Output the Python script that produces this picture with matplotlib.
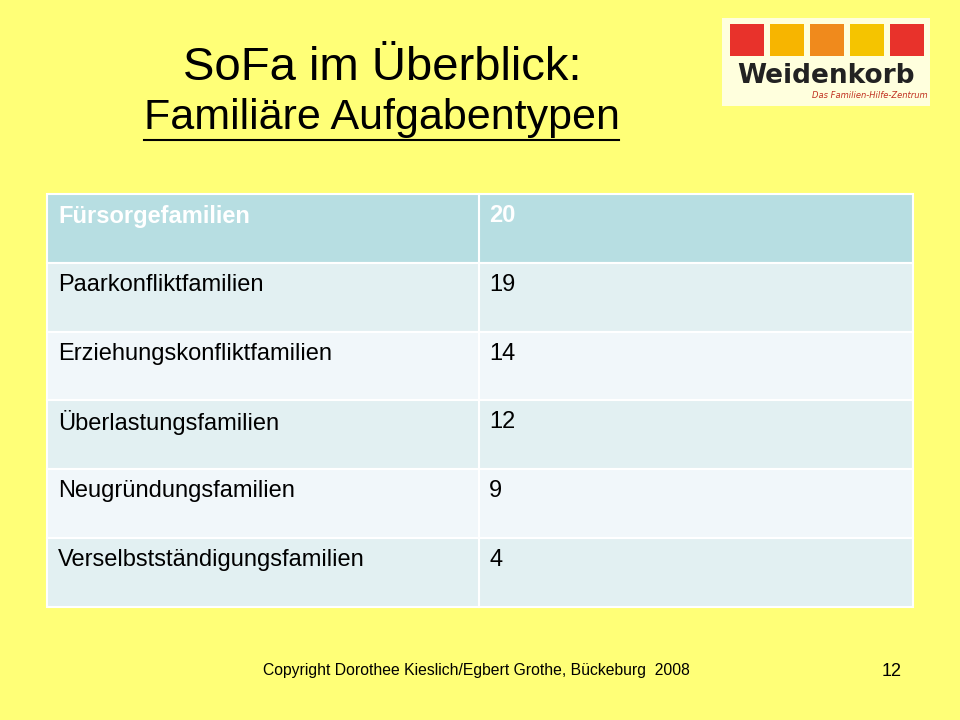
import matplotlib.pyplot as plt
from matplotlib.patches import Rectangle

# table data
categories = ["Fürsorgefamilien", "Paarkonfliktfamilien", "Erziehungskonfliktfamilien",
              "Überlastungsfamilien", "Neugründungsfamilien", "Verselbstständigungsfamilien"]
counts = [20, 19, 14, 12, 9, 4]
logo_colors = ["#E8322B", "#F7B500", "#F08A1C", "#F5C400", "#E8322B"]

fig = plt.figure(figsize=(9.6, 7.2), dpi=100)
fig.patch.set_facecolor("#FFFF77")
ax = fig.add_axes([0, 0, 1, 1])
ax.set_xlim(0, 960)
ax.set_ylim(720, 0)
ax.axis("off")

# title
ax.text(382, 68, "SoFa im Überblick:", fontsize=34, ha="center", va="center", family="Liberation Sans")
ax.text(382, 118, "Familiäre Aufgabentypen", fontsize=31, ha="center", va="center", family="Liberation Sans")
ax.plot([144, 619], [140, 140], color="black", lw=1.5)

# table
left, mid, right = 47, 479, 913
top, row_h = 194, 68.8
for i, (cat, n) in enumerate(zip(categories, counts)):
    y0 = top + i * row_h
    if i == 0:
        col = "#B7DEE2"
    elif i % 2 == 1:
        col = "#E2F0F2"
    else:
        col = "#F1F7FA"
    ax.add_patch(Rectangle((left, y0), right - left, row_h, facecolor=col, edgecolor="white", lw=1.5))
    ax.plot([mid, mid], [y0, y0 + row_h], color="white", lw=1.5)
    weight = "bold" if i == 0 else "normal"
    tc = "white" if i == 0 else "black"
    ax.text(left + 11, y0 + 22, cat, fontsize=17, color=tc, weight=weight, va="center", family="Liberation Sans")
    ax.text(mid + 10, y0 + 22, str(n), fontsize=17, color=tc, weight=weight, va="center", family="Liberation Sans")

# logo
ax.add_patch(Rectangle((722, 18), 208, 88, facecolor="#FFFFDD", edgecolor="none"))
for i, c in enumerate(logo_colors):
    ax.add_patch(Rectangle((730 + i * 40, 24), 34, 32, facecolor=c, edgecolor="none"))
ax.text(826, 76, "Weidenkorb", fontsize=19, weight="bold", color="#222222", ha="center", va="center",
        family="DejaVu Sans")
ax.text(870, 96, "Das Familien-Hilfe-Zentrum", fontsize=6, style="italic", color="#C03020",
        ha="center", va="center")

# footer
ax.text(476, 670, "Copyright Dorothee Kieslich/Egbert Grothe, Bückeburg  2008", fontsize=11.3,
        ha="center", va="center", family="Liberation Sans")
ax.text(892, 672, "12", fontsize=13, ha="center", va="center", family="Liberation Sans")

fig.savefig("out.png", dpi=100, facecolor=fig.get_facecolor())
